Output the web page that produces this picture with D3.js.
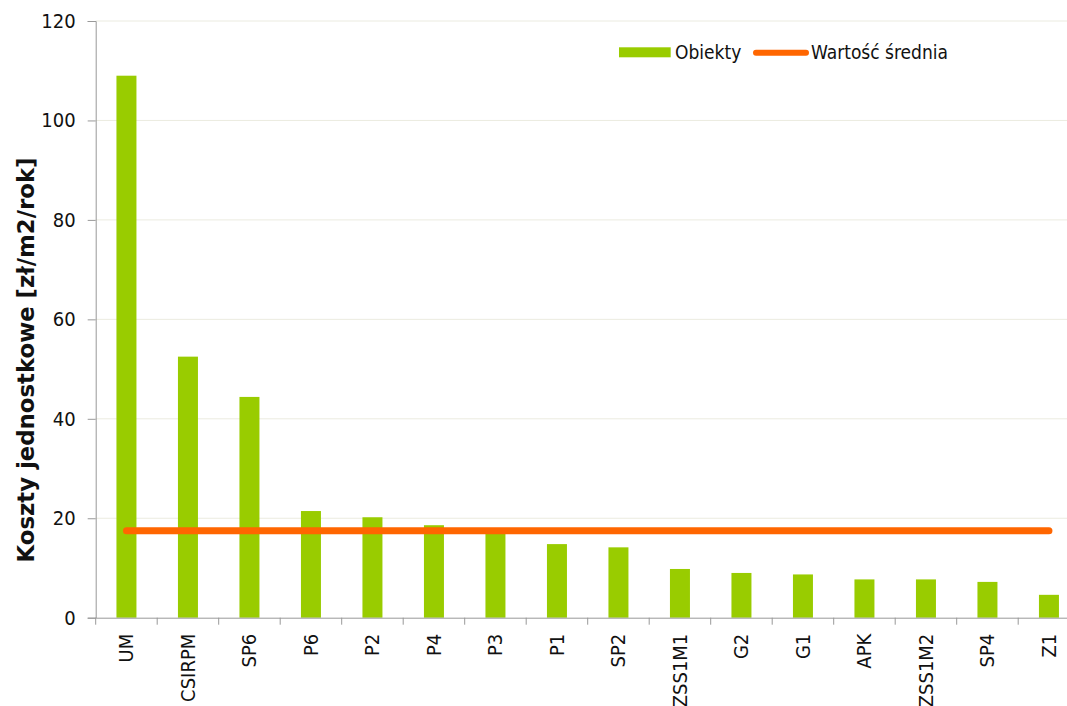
<!DOCTYPE html>
<html><head><meta charset="utf-8">
<script src="https://cdn.jsdelivr.net/npm/d3@7"></script>
<style>
body{margin:0;background:#fff;}
svg text{font-family:"DejaVu Sans Condensed","DejaVu Sans",sans-serif;fill:#111;}
</style></head><body>
<svg id="c" width="1067" height="706"></svg>
<script>
const categories = ["UM","CSIRPM","SP6","P6","P2","P4","P3","P1","SP2","ZSS1M1","G2","G1","APK","ZSS1M2","SP4","Z1"];
const objectValues = [109,52.5,44.4,21.45,20.2,18.6,17.6,14.8,14.15,9.8,9.0,8.7,7.7,7.7,7.2,4.6];
const meanValues = [17.5,17.5,17.5,17.5,17.5,17.5,17.5,17.5,17.5,17.5,17.5,17.5,17.5,17.5,17.5,17.5];
const yTicks = [0,20,40,60,80,100,120];
const seriesNames = ["Obiekty","Wartość średnia"];
const yTitle = "Koszty jednostkowe [zł/m2/rok]";

const svg = d3.select("#c");
const mLeft = 95.7, mTop = 21, mBottom = 617.7;
const x = d3.scaleBand().domain(categories).range([mLeft, mLeft + 61.5*16]).paddingInner(0).paddingOuter(0);
const y = d3.scaleLinear().domain([0,120]).range([mBottom, mTop]);
const plotRight = mLeft + 61.5*16;

// gridlines
svg.append("g").selectAll("line").data(yTicks.filter(d=>d>0)).join("line")
  .attr("x1", mLeft).attr("x2", plotRight).attr("y1", d=>y(d)).attr("y2", d=>y(d))
  .attr("stroke", "#ebebe0").attr("stroke-width", 1);

// bars
const bw = 20;
svg.append("g").selectAll("rect").data(categories).join("rect")
  .attr("x", d=>x(d)+x.bandwidth()/2-bw/2).attr("width", bw)
  .attr("y", (d,i)=>y(objectValues[i])).attr("height", (d,i)=>y(0)-y(objectValues[i]))
  .attr("fill", "#99cc00");

// y axis
const yAxis = d3.axisLeft(y).tickValues(yTicks).tickSize(8).tickPadding(12);
const gy = svg.append("g").attr("transform", `translate(${mLeft},0)`).call(yAxis);
gy.selectAll("path, line").attr("stroke", "#999");
gy.selectAll("text").style("font-size","20px");

// x axis
const gx = svg.append("g").attr("transform", `translate(0,${mBottom})`)
  .call(d3.axisBottom(x).tickSize(0).tickFormat(""));
gx.select("path").attr("stroke","#999");
gx.selectAll(".tick").remove();
const bounds = d3.range(categories.length+1).map(i=> mLeft + i*x.step());
gx.selectAll("line.b").data(bounds).join("line").attr("class","b")
  .attr("x1",d=>d).attr("x2",d=>d).attr("y1",0).attr("y2",7).attr("stroke","#999");
svg.append("g").selectAll("text").data(categories).join("text")
  .attr("transform", d=>`translate(${x(d)+x.bandwidth()/2+7},${mBottom+16}) rotate(-90)`)
  .attr("text-anchor","end").style("font-size","20px").text(d=>d);

// mean line
const line = d3.line().x(d=>x(d)+x.bandwidth()/2).y((d,i)=>y(meanValues[i]));
svg.append("path").datum(categories).attr("d", line)
  .attr("fill","none").attr("stroke","#ff6600").attr("stroke-width",7).attr("stroke-linecap","round");

// y title
svg.append("text").attr("transform", `translate(34,360) rotate(-90)`)
  .attr("text-anchor","middle")
  .style("font-family","'DejaVu Sans',sans-serif")
  .style("font-size","22.8px").style("font-weight","bold").text(yTitle);

// legend
const lg = svg.append("g");
lg.append("rect").attr("x",619).attr("y",47.3).attr("width",51.7).attr("height",10).attr("fill","#99cc00");
lg.append("text").attr("x",675).attr("y",59).style("font-size","19px").text(seriesNames[0]);
lg.append("line").attr("x1",756).attr("x2",806).attr("y1",52.7).attr("y2",52.7)
  .attr("stroke","#ff6600").attr("stroke-width",6).attr("stroke-linecap","round");
lg.append("text").attr("x",811).attr("y",59).style("font-size","19px").text(seriesNames[1]);
</script></body></html>
